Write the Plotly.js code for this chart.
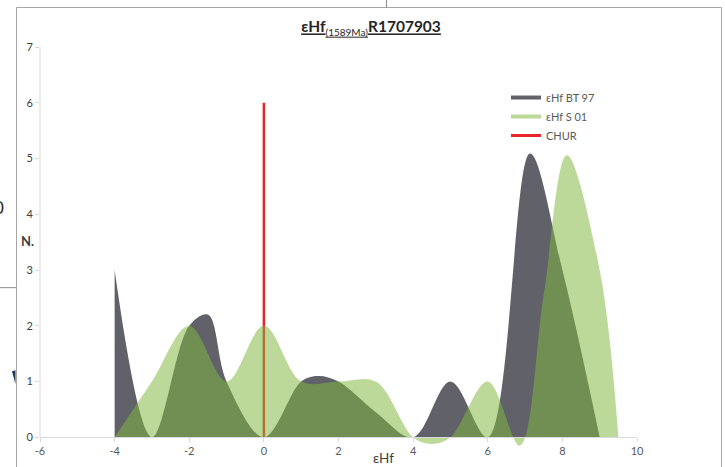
<!DOCTYPE html>
<html>
<head>
<meta charset="utf-8">
<script src="https://cdn.plot.ly/plotly-3.0.1.min.js"></script>
<style>html,body{margin:0;padding:0;background:#fff;}#chart{width:725px;height:467px;}</style>
</head>
<body>
<div id="chart"></div>
<script>
// ---- data ----
const btX   = [-4, -3, -2, -1.5, -1, 0, 1, 1.45, 2, 3, 4, 5, 6, 7.13, 8, 9];
const btY   = [3, 0, 2, 2.2, 1, 0, 1, 1.1, 1, 0.45, 0, 1, 0, 5.09, 3, 0];
const s01X  = [-4, -3, -2, -1, 0, 1, 2, 3, 4, 4.5, 5, 6, 6.86, 7.5, 8.12, 9, 9.5];
const s01Y  = [0, 1, 2, 1, 2, 1, 1, 1, 0, -0.12, 0, 1, -0.15, 2.56, 5.06, 3, 0];
const churX = [0, 0];
const churY = [0, 6];
const seriesNames = ['εHf BT 97', 'εHf S 01', 'CHUR'];
const xTicks = [-6, -4, -2, 0, 2, 4, 6, 8, 10];
const yTicks = [0, 1, 2, 3, 4, 5, 6, 7];

// ---- styling ----
const GREY = 'rgb(96,97,105)';
const GREEN = 'rgba(128,183,64,0.53)';
const GREEN_LEG = 'rgb(188,217,154)';
const RED = '#e8262a';
const FONT = 'Lato, "Open Sans", sans-serif';

// pixel -> paper helpers (plot area: x 40..637, y 47..453.7)
const PL = 40, PR = 637, PT = 47, PB = 437 + 0.3 * (390 / 7);
const xp = px => (px - PL) / (PR - PL);
const yp = py => (PB - py) / (PB - PT);

const traces = [
  {x: btX, y: btY, type: 'scatter', mode: 'lines', line: {shape: 'spline', width: 0, color: GREY},
   fill: 'tozeroy', fillcolor: GREY, showlegend: false, hoverinfo: 'skip'},
  {x: s01X, y: s01Y, type: 'scatter', mode: 'lines', line: {shape: 'spline', width: 0, color: GREEN},
   fill: 'tozeroy', fillcolor: GREEN, showlegend: false, hoverinfo: 'skip'},
  // legend entries
  {x: [null], y: [null], type: 'scatter', mode: 'lines', name: seriesNames[0], line: {color: GREY, width: 4}},
  {x: [null], y: [null], type: 'scatter', mode: 'lines', name: seriesNames[1], line: {color: GREEN_LEG, width: 4}},
  {x: [null], y: [null], type: 'scatter', mode: 'lines', name: seriesNames[2], line: {color: RED, width: 3}}
];

const layout = {
  width: 725, height: 467,
  paper_bgcolor: '#fff', plot_bgcolor: 'rgba(0,0,0,0)',
  margin: {l: PL, r: 725 - PR, t: PT, b: 467 - PB, pad: 0},
  font: {family: FONT, color: '#595959'},
  title: {
    text: '<b><u>εHf</u></b><sub><u><span style="font-size:10px">(1589Ma)</span></u></sub><b><u>R1707903</u></b>',
    x: 371 / 725, xref: 'container', xanchor: 'center',
    y: 1 - 27 / 467, yref: 'container', yanchor: 'middle',
    font: {family: FONT, size: 15.5, color: '#262626'}
  },
  xaxis: {
    range: [-6, 10], tickvals: xTicks, ticktext: xTicks.map(String),
    anchor: 'free', position: 0.3 / 7.3,
    showgrid: false, zeroline: false, showline: true, linecolor: '#d9d9d9', linewidth: 1,
    ticks: 'outside', ticklen: 4, tickcolor: '#d9d9d9',
    tickfont: {family: FONT, size: 11, color: '#595959'}
  },
  yaxis: {
    range: [-0.3, 7], tickvals: yTicks, ticktext: yTicks.map(String),
    showgrid: false, zeroline: false, showline: false,
    ticks: 'outside', ticklen: 4, tickcolor: '#d9d9d9',
    tickfont: {family: FONT, size: 11, color: '#404040'}
  },
  showlegend: true,
  legend: {
    x: xp(506), y: yp(83), xanchor: 'left', yanchor: 'top',
    bgcolor: 'rgba(0,0,0,0)', borderwidth: 0,
    font: {family: FONT, size: 11, color: '#595959'},
    tracegroupgap: 0
  },
  shapes: [
    // CHUR line, below the traces so the translucent S 01 area tints it
    {type: 'line', xref: 'x', yref: 'y', layer: 'below',
     x0: churX[0], x1: churX[1], y0: churY[0], y1: churY[1], line: {color: RED, width: 2.5}},
    {type: 'line', xref: 'paper', yref: 'y', x0: 0, x1: 0, y0: 0, y1: 7, line: {color: '#d9d9d9', width: 1}},
    {type: 'rect', xref: 'paper', yref: 'paper', x0: xp(16.5), x1: xp(721.5), y0: yp(480), y1: yp(7.5),
     line: {color: '#a6a6a6', width: 1}, fillcolor: 'rgba(0,0,0,0)'},
    {type: 'line', xref: 'paper', yref: 'paper', x0: xp(386.5), x1: xp(386.5), y0: yp(0), y1: yp(7.5),
     line: {color: '#8c8c8c', width: 1}},
    {type: 'line', xref: 'paper', yref: 'paper', x0: xp(0), x1: xp(16.5), y0: yp(287.5), y1: yp(287.5),
     line: {color: '#8c8c8c', width: 1}},
    {type: 'path', xref: 'paper', yref: 'paper',
     path: `M ${xp(12)} ${yp(371)} L ${xp(15.5)} ${yp(370)} L ${xp(15.5)} ${yp(384)} Z`,
     line: {width: 0}, fillcolor: '#1f3b5c'}
  ],
  annotations: [
    {text: '<b>N.</b>', xref: 'paper', yref: 'paper', x: xp(27), y: yp(241), showarrow: false,
     xanchor: 'center', yanchor: 'middle', font: {family: FONT, size: 13, color: '#404040'}},
    {text: 'εHf', xref: 'paper', yref: 'paper', x: xp(383), y: yp(458), showarrow: false,
     xanchor: 'center', yanchor: 'middle', font: {family: FONT, size: 13.5, color: '#404040'}},
    {text: '0', xref: 'paper', yref: 'paper', x: xp(-1), y: yp(207), showarrow: false,
     xanchor: 'center', yanchor: 'middle', font: {family: FONT, size: 17, color: '#262626'}}
  ]
};

Plotly.newPlot('chart', traces, layout, {staticPlot: true, displayModeBar: false});
</script>
</body>
</html>
